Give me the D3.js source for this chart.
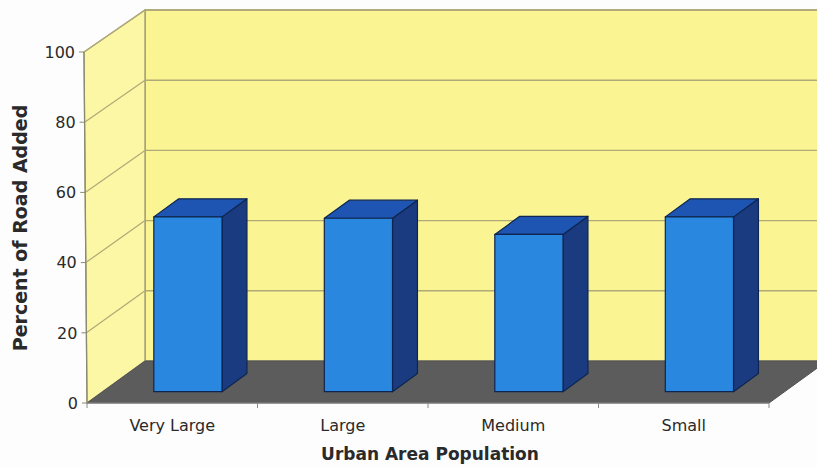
<!DOCTYPE html>
<html>
<head>
<meta charset="utf-8">
<script src="https://cdn.jsdelivr.net/npm/d3@7"></script>
<style>
  html, body { margin: 0; padding: 0; background: #fdfdfd; }
  svg { display: block; }
  text { font-family: "DejaVu Sans", Verdana, sans-serif; fill: #2a2a2a; }
</style>
</head>
<body>
<svg id="chart" width="817" height="468"></svg>
<script>
// Data
const categories = ["Very Large", "Large", "Medium", "Small"];
const values = [49.8, 49.4, 44.8, 49.8];
const yTicks = [0, 20, 40, 60, 80, 100];
const yTitle = "Percent of Road Added";
const xTitle = "Urban Area Population";

const svg = d3.select("#chart");

// Front plane of the 3D box and its depth offset
const plotLeft = 87, plotRight = 769;
const DX = 58, DY = -42;             // full depth of the box in screen px
const barF0 = 0.27, barF1 = 0.70;    // bar depth span as fraction of the box depth

const y = d3.scaleLinear().domain([0, 100]).range([403, 52]);
const x = d3.scaleBand().domain(categories).range([plotLeft, plotRight])
  .paddingInner(0.6).paddingOuter(0.3);

const pt = (px, v, f) => [px + DX * f, y(v) + DY * f];
const poly = pts => pts.map(p => p.join(",")).join(" ");

const wallStroke = "#9f9a72";
const gridStroke = "#b0a978";

// Back wall
svg.append("polygon")
  .attr("points", poly([pt(plotLeft, 0, 1), pt(plotLeft, 100, 1), pt(plotRight + 60, 100, 1), pt(plotRight + 60, 0, 1)]))
  .attr("fill", "#faf592").attr("stroke", wallStroke).attr("stroke-width", 1.3);

// Side wall
svg.append("polygon")
  .attr("points", poly([pt(plotLeft, 0, 0), pt(plotLeft - 3, 100, 0), pt(plotLeft, 100, 1), pt(plotLeft, 0, 1)]))
  .attr("fill", "#fbf7a4").attr("stroke", wallStroke).attr("stroke-width", 1.3);

// Gridlines on back wall and side wall
const grid = svg.append("g");
yTicks.filter(t => t > 0).forEach(t => {
  const a = pt(plotLeft, t, 1), b = pt(plotRight + 60, t, 1);
  grid.append("line").attr("x1", a[0]).attr("y1", a[1]).attr("x2", b[0]).attr("y2", b[1])
    .attr("stroke", gridStroke).attr("stroke-width", 1.4);
  const c = pt(plotLeft - 3 * t / 100, t, 0);
  grid.append("line").attr("x1", c[0]).attr("y1", c[1]).attr("x2", a[0]).attr("y2", a[1])
    .attr("stroke", gridStroke).attr("stroke-width", 1.2);
});

// Floor
svg.append("polygon")
  .attr("points", poly([pt(plotLeft, 0, 0), pt(plotRight, 0, 0), pt(plotRight, 0, 1), pt(plotLeft, 0, 1)]))
  .attr("fill", "#5c5c5c").attr("stroke", "#535353").attr("stroke-width", 1);

// Bars
const bars = svg.append("g");
const ddx = DX * (barF1 - barF0), ddy = DY * (barF1 - barF0);
categories.forEach((c, i) => {
  const v = values[i];
  const x0 = x(c) + DX * barF0, x1 = x0 + x.bandwidth();
  const yt = y(v) + DY * barF0, yb = y(0) + DY * barF0;
  const g = bars.append("g").attr("stroke", "#0e2550").attr("stroke-width", 1.2).attr("stroke-linejoin", "round");
  g.append("polygon").attr("points", poly([[x1, yt], [x1, yb], [x1 + ddx, yb + ddy], [x1 + ddx, yt + ddy]]))
    .attr("fill", "#1b3b80");
  g.append("polygon").attr("points", poly([[x0, yt], [x1, yt], [x1 + ddx, yt + ddy], [x0 + ddx, yt + ddy]]))
    .attr("fill", "#1f55b2");
  g.append("rect").attr("x", x0).attr("y", yt).attr("width", x1 - x0).attr("height", yb - yt)
    .attr("fill", "#2a87df");
});

// Y axis line, ticks and labels
const yAxis = svg.append("g");
yAxis.append("line").attr("x1", plotLeft).attr("y1", y(0)).attr("x2", plotLeft - 3).attr("y2", y(100))
  .attr("stroke", "#8a8a70").attr("stroke-width", 1.2);
yTicks.forEach(t => {
  const xx = plotLeft - 3 * t / 100;
  yAxis.append("line").attr("x1", xx - 5).attr("x2", xx).attr("y1", y(t)).attr("y2", y(t))
    .attr("stroke", "#8a8a70");
  yAxis.append("text").attr("x", xx - 9).attr("y", y(t)).attr("dy", "0.36em")
    .attr("text-anchor", "end").attr("font-size", 16).text(t);
});

// X axis line, category ticks and labels
const xAxis = svg.append("g");
xAxis.append("line").attr("x1", plotLeft).attr("x2", plotRight).attr("y1", y(0)).attr("y2", y(0))
  .attr("stroke", "#8a8a8a").attr("stroke-width", 1.2);
const bounds = [plotLeft].concat(categories.map(c => x(c) + x.bandwidth() + x.step() * 0.3));
bounds.forEach(b => {
  xAxis.append("line").attr("x1", b).attr("x2", b).attr("y1", y(0)).attr("y2", y(0) + 5)
    .attr("stroke", "#8a8a8a");
});
categories.forEach(c => {
  xAxis.append("text").attr("x", x(c) + x.bandwidth() / 2).attr("y", 431)
    .attr("text-anchor", "middle").attr("font-size", 16).text(c);
});

// Axis titles
svg.append("text").attr("x", 430).attr("y", 460).attr("text-anchor", "middle")
  .attr("font-size", 17).attr("font-weight", "bold").text(xTitle);
svg.append("text").attr("transform", "translate(27,228) rotate(-90)").attr("text-anchor", "middle")
  .attr("font-size", 19).attr("font-weight", "bold").text(yTitle);
</script>
</body>
</html>
